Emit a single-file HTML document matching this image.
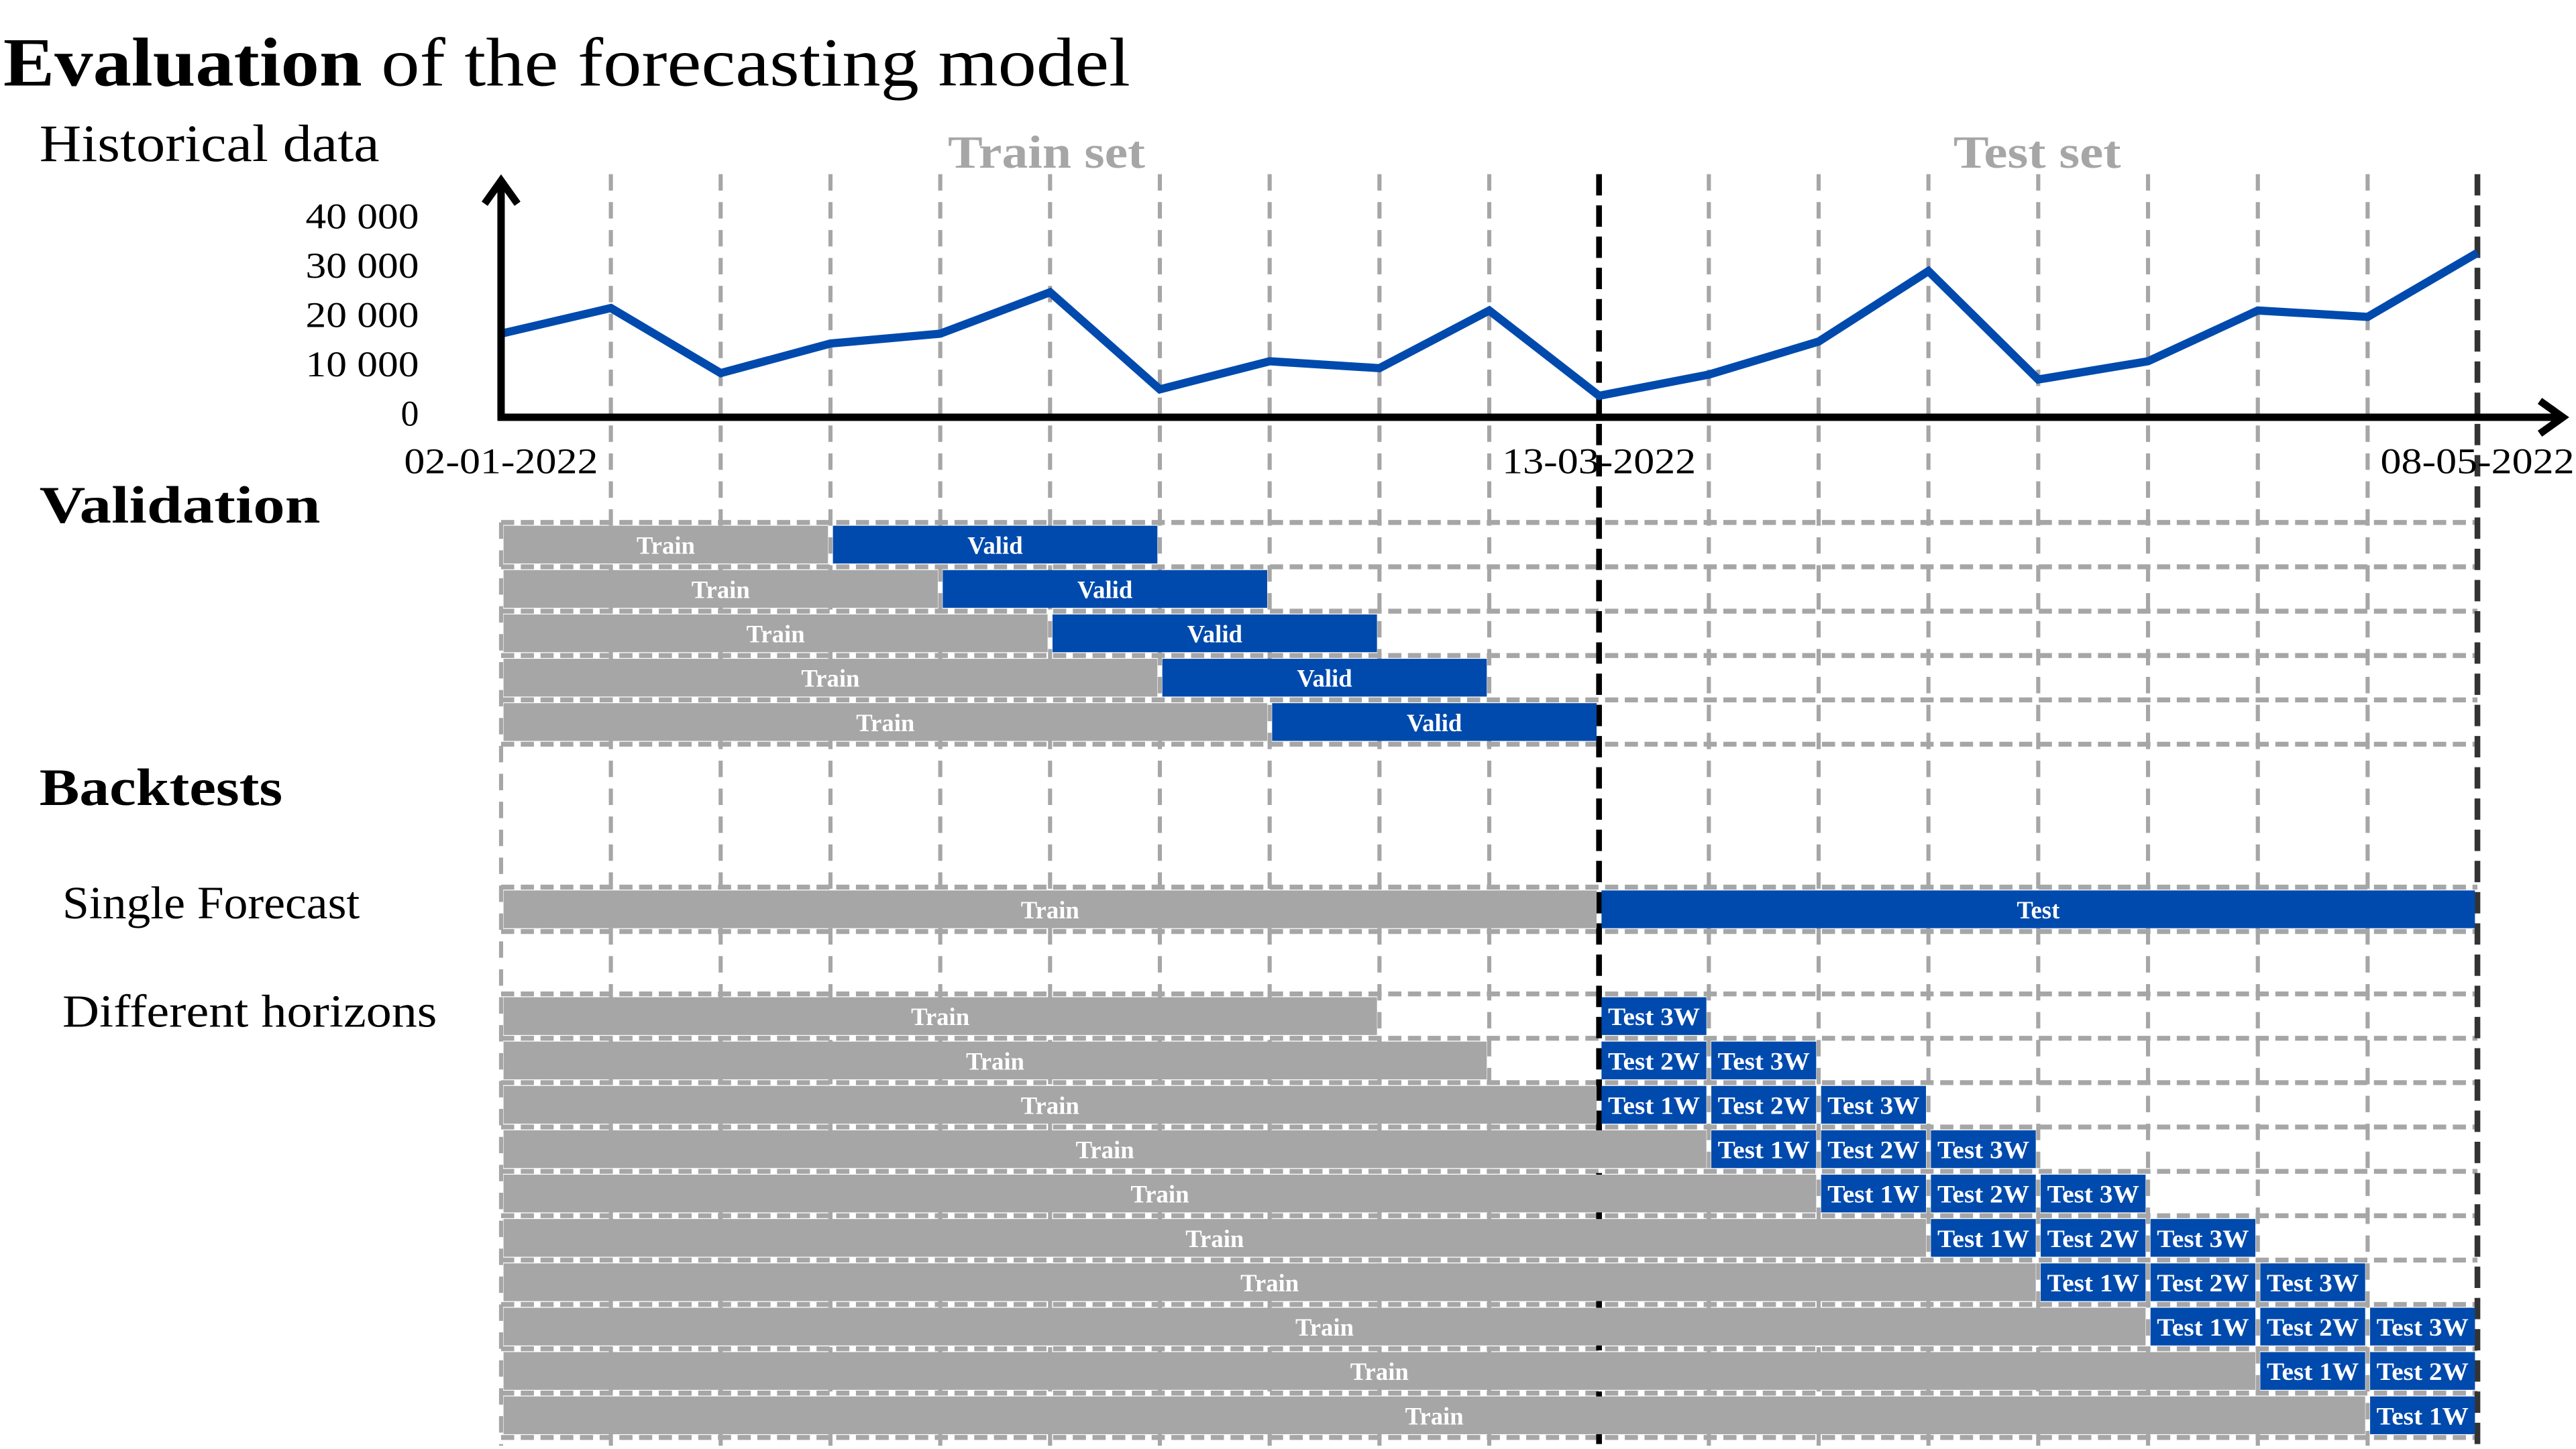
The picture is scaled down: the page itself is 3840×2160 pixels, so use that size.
<!DOCTYPE html>
<html><head><meta charset="utf-8"><style>
html,body{margin:0;padding:0;background:#fff}
svg{display:block}
text{font-family:"Liberation Serif",serif}
</style></head><body>
<svg id="chart" width="3840" height="2160" viewBox="0 0 1568 882" xmlns="http://www.w3.org/2000/svg">
<g id="static">
<text x="2" y="52" font-size="42" textLength="686" lengthAdjust="spacingAndGlyphs"><tspan font-weight="bold">Evaluation</tspan> of the forecasting model</text>
<text x="24" y="98" font-size="32" textLength="207" lengthAdjust="spacingAndGlyphs">Historical data</text>
<text x="24" y="318" font-size="32" font-weight="bold" textLength="171" lengthAdjust="spacingAndGlyphs">Validation</text>
<text x="24" y="490" font-size="32" font-weight="bold" textLength="148" lengthAdjust="spacingAndGlyphs">Backtests</text>
<text x="38" y="559" font-size="28" textLength="181" lengthAdjust="spacingAndGlyphs">Single Forecast</text>
<text x="38" y="625" font-size="28" textLength="228" lengthAdjust="spacingAndGlyphs">Different horizons</text>
<text x="577" y="102" font-size="28" font-weight="bold" fill="#a6a6a6" textLength="120" lengthAdjust="spacingAndGlyphs">Train set</text>
<text x="1189" y="102" font-size="28" font-weight="bold" fill="#a6a6a6" textLength="102" lengthAdjust="spacingAndGlyphs">Test set</text>
</g>
<g id="grid"></g>
<g id="bars"></g>
<g id="series"></g>
</svg>
<script>
const dates = ["02-01-2022","09-01-2022","16-01-2022","23-01-2022","30-01-2022","06-02-2022","13-02-2022","20-02-2022","27-02-2022","06-03-2022","13-03-2022","20-03-2022","27-03-2022","03-04-2022","10-04-2022","17-04-2022","24-04-2022","01-05-2022","08-05-2022"];
const values = [16300,21500,8300,14300,16300,24700,5000,10700,9300,21000,3700,8000,14700,29000,7000,10700,21000,19700,32700];
const yTicks = [0,10000,20000,30000,40000];
const yTickLabels = ["0","10 000","20 000","30 000","40 000"];
const shownDates = ["02-01-2022","13-03-2022","08-05-2022"];
const splitIndex = 10;
const validStarts = [3,4,5,6,7];
const validLength = 3;
const horizonTrainEnds = [8,9,10,11,12,13,14,15,16,17];
const horizonLabels = ["Test 1W","Test 2W","Test 3W"];

const NS="http://www.w3.org/2000/svg";
const X0=305, DX=(1508-305)/18;
const xs = i => X0 + i*DX;
const ys = v => 252 - v*0.003;
function mk(tag, attrs, parent){const e=document.createElementNS(NS,tag);for(const k in attrs)e.setAttribute(k,attrs[k]);parent.appendChild(e);return e;}
const grid=document.getElementById('grid'), bars=document.getElementById('bars'), series=document.getElementById('series');
const last=dates.length-1;

const rowTops=[];
for(let k=0;k<=5;k++) rowTops.push(318+27*k);
rowTops.push(540,567);
for(let k=0;k<=10;k++) rowTops.push(605+27*k);
rowTops.forEach(y=>{
  const l=mk('line',{x1:X0,x2:xs(last),y1:y,y2:y,stroke:'#a6a6a6','stroke-width':3,'stroke-dasharray':'8 4'},grid);
  
  
});
dates.forEach((d,i)=>{
  if(i===0) return;
  let col='#a6a6a6',w=2.5,da='10 7';
  if(i===splitIndex){col='#000';w=3.5;da='13 6';}
  if(i===last){col='#333';w=3.5;da='13 6';}
  const l=mk('line',{x1:xs(i),x2:xs(i),y1:106,y2:880,stroke:col,'stroke-width':w,'stroke-dasharray':da},grid);
  
  
});
mk('line',{x1:X0,x2:X0,y1:318,y2:880,stroke:'#a6a6a6','stroke-width':2.5,'stroke-dasharray':'10 7'},grid);

function bar(a,b,y,fill,label,name,tl){
  const r=mk('rect',{x:xs(a)+1.5,y:y+2,width:xs(b)-xs(a)-3,height:23,fill:fill},bars);
  
  
  const attrs={x:(xs(a)+xs(b))/2,y:y+19,'font-size':15,'font-weight':'bold',fill:'#fff','text-anchor':'middle'};
  if(tl){attrs.textLength=tl;attrs.lengthAdjust='spacingAndGlyphs';}
  const t=mk('text',attrs,bars);
  t.textContent=label;
  
  
}
validStarts.forEach((s,k)=>{
  const y=318+27*k;
  bar(0,s,y,'#a6a6a6','Train','validation-train-bar');
  bar(s,s+validLength,y,'#004aad','Valid','validation-valid-bar');
});
bar(0,splitIndex,540,'#a6a6a6','Train','single-train-bar');
bar(splitIndex,last,540,'#004aad','Test','single-test-bar');
horizonTrainEnds.forEach((e,r)=>{
  const y=605+27*r;
  bar(0,e,y,'#a6a6a6','Train','horizon-train-bar');
  horizonLabels.forEach((lab,k)=>{
    const p=e+k;
    if(p>=splitIndex && p<last) bar(p,p+1,y,'#004aad',lab,'horizon-test-bar',56);
  });
});

const pts=values.map((v,i)=>xs(i)+','+ys(v)).join(' ');
const pl=mk('polyline',{points:pts,fill:'none',stroke:'#004aad','stroke-width':5,'stroke-linejoin':'miter'},series);



const ya=mk('path',{d:`M${X0} 256 L${X0} 110 M${X0-10} 124 L${X0} 110 L${X0+10} 124`,fill:'none',stroke:'#000','stroke-width':4.5},series);


const xa=mk('path',{d:`M${X0-2} 254 L1560 254 M1546 244 L1560 254 L1546 264`,fill:'none',stroke:'#000','stroke-width':4.5},series);


yTicks.forEach((v,i)=>{
  const attrs={x:255,y:ys(v)+7,'font-size':22,'text-anchor':'end'};
  if(v>0){attrs.textLength=69;attrs.lengthAdjust='spacingAndGlyphs';}
  const t=mk('text',attrs,series);
  t.textContent=yTickLabels[i];
  
  
});
shownDates.forEach(d=>{
  const i=dates.indexOf(d);
  const t=mk('text',{x:xs(i),y:288,'font-size':22,'text-anchor':'middle',textLength:118,lengthAdjust:'spacingAndGlyphs'},series);
  t.textContent=d;
  
  
});
</script>
</body></html>
